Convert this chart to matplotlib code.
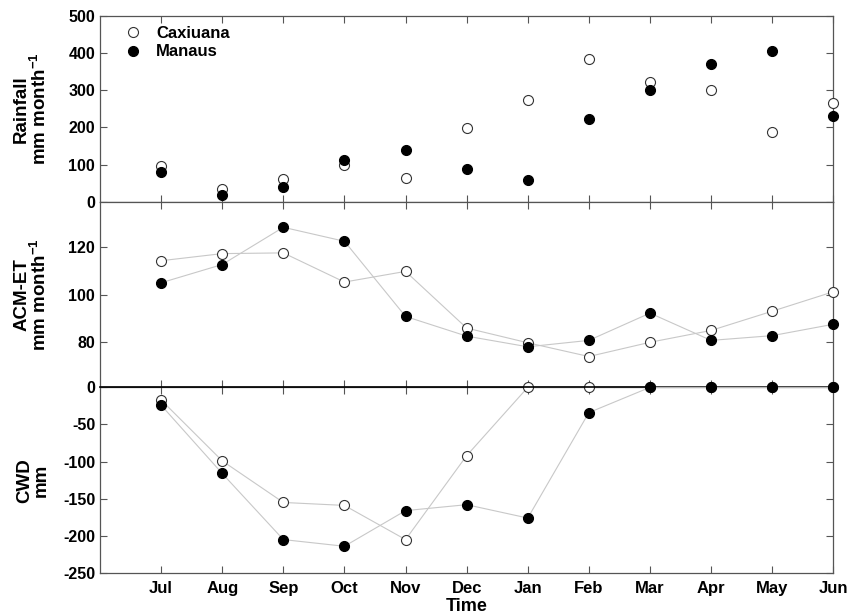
import numpy as np
import matplotlib
matplotlib.use('Agg')
import matplotlib.pyplot as plt

plt.rcParams['font.family'] = ['Liberation Sans', 'DejaVu Sans']
plt.rcParams['font.weight'] = 'bold'
plt.rcParams['axes.unicode_minus'] = False
plt.rcParams['mathtext.fontset'] = 'custom'
plt.rcParams['mathtext.rm'] = 'Liberation Sans:bold'
plt.rcParams['mathtext.default'] = 'rm'

# Monthly values, July to June
months = ['Jul', 'Aug', 'Sep', 'Oct', 'Nov', 'Dec', 'Jan', 'Feb', 'Mar', 'Apr', 'May', 'Jun']

rain_cax = [97, 34, 61, 99, 63, 198, 274, 385, 322, 302, 187, 267]
rain_man = [80, 18, 39, 111, 139, 88, 59, 222, 302, 372, 405, 231]

et_cax = [114.3, 117.3, 117.6, 105.3, 109.8, 85.9, 79.7, 73.9, 79.9, 84.9, 93.0, 101.2]
et_man = [105.0, 112.7, 128.4, 122.5, 90.8, 82.5, 78.0, 80.7, 92.2, 80.7, 82.7, 87.5]

cwd_cax = [-17, -99, -155, -159, -205, -92, 0, 0, 0, 0, 0, 0]
cwd_man = [-24, -116, -205, -214, -166, -158, -176, -34, 0, 0, 0, 0]

x = np.arange(1, len(months) + 1)

fig = plt.figure(figsize=(8.49, 6.16), dpi=100)
gs = fig.add_gridspec(3, 1, left=0.1178, right=0.9815, top=0.974, bottom=0.0698, hspace=0)
axes = [fig.add_subplot(gs[i]) for i in range(3)]

open_style = dict(marker='o', markersize=7.2, markerfacecolor='white',
                  markeredgecolor='#333333', markeredgewidth=0.8)
fill_style = dict(marker='o', markersize=7.2, markerfacecolor='black',
                  markeredgecolor='black', markeredgewidth=0.8)
line_col = '#c8c8c8'

# Rainfall
ax = axes[0]
ax.plot(x, rain_cax, linestyle='none', label='Caxiuana', clip_on=False, zorder=3, **open_style)
ax.plot(x, rain_man, linestyle='none', label='Manaus', clip_on=False, zorder=4, **fill_style)
ax.set_ylim(0, 500)
yt1 = [0, 100, 200, 300, 400, 500]
ax.set_yticks(yt1)
ax.set_yticklabels([str(v) for v in yt1], fontweight='bold')
ax.set_ylabel('Rainfall\nmm month$^{-1}$', fontsize=13.5, fontweight='bold', linespacing=1.0)
ax.legend(loc='upper left', frameon=False, fontsize=12, handletextpad=0.9,
          labelspacing=0.2, borderaxespad=0.2, handlelength=1.0,
          bbox_to_anchor=(0.02, 1.0))

# ACM-ET
ax = axes[1]
ax.plot(x, et_cax, color=line_col, lw=0.8, clip_on=False, zorder=3, **open_style)
ax.plot(x, et_man, color=line_col, lw=0.8, clip_on=False, zorder=4, **fill_style)
ax.set_ylim(60.9, 139.2)
yt2 = [80, 100, 120]
ax.set_yticks(yt2)
ax.set_yticklabels([str(v) for v in yt2], fontweight='bold')
ax.set_ylabel('ACM-ET\nmm month$^{-1}$', fontsize=13.5, fontweight='bold', linespacing=1.0)

# CWD
ax = axes[2]
ax.plot(x, cwd_cax, color=line_col, lw=0.8, clip_on=False, zorder=3, **open_style)
ax.plot(x, cwd_man, color=line_col, lw=0.8, clip_on=False, zorder=4, **fill_style)
ax.axhline(0, color='black', lw=1.2, zorder=3.5, clip_on=False)
ax.set_ylim(-250, 0)
yt3 = [0, -50, -100, -150, -200, -250]
ax.set_yticks(yt3)
ax.set_yticklabels([str(v) for v in yt3], fontweight='bold')
ax.set_ylabel('CWD\nmm', fontsize=13.5, fontweight='bold', linespacing=1.0)
ax.set_xlabel('Time', fontsize=13, fontweight='bold', labelpad=1)

for i, ax in enumerate(axes):
    ax.set_xlim(0, 12)
    ax.set_xticks(x)
    ax.tick_params(direction='in', length=5, width=0.8, top=True, right=True,
                   color='#555555')
    ax.tick_params(axis='y', labelsize=11.5)
    ax.tick_params(axis='x', labelsize=12, pad=6)
    if i < 2:
        ax.set_xticklabels([])
    else:
        ax.set_xticklabels(months, fontweight='bold')
    for sp in ax.spines.values():
        sp.set_color('#555555')
        sp.set_linewidth(0.9)
    ax.yaxis.set_label_coords(-0.068, 0.5)

plt.savefig('out.png', dpi=100)
